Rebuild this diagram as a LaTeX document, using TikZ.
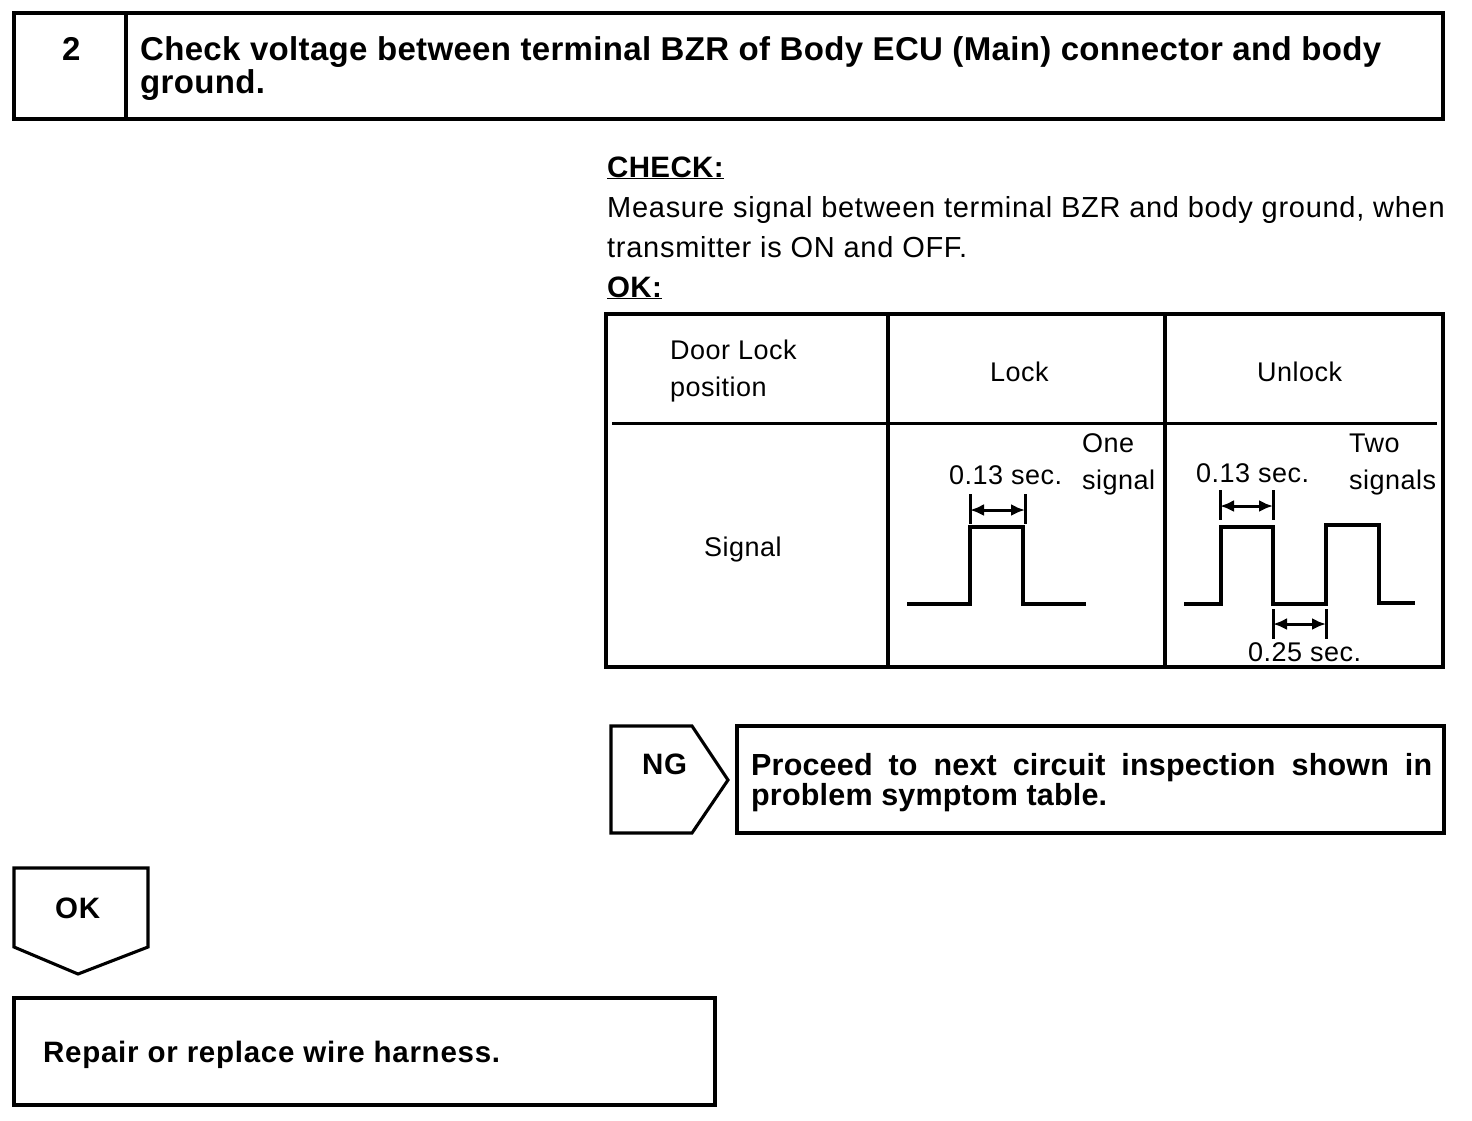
\documentclass[tikz,border=0pt]{standalone}
\usepackage{fontspec}
\setmainfont{Liberation Sans}
\usetikzlibrary{arrows.meta}
\tikzset{
  box/.style={draw,line width=3.1pt,line join=miter},
  rule/.style={line width=3pt},
  sig/.style={line width=3.1pt,line join=miter},
  tick/.style={line width=3pt},
  dim/.style={line width=3pt,{Latex[length=14pt,width=12pt]}-{Latex[length=14pt,width=12pt]}},
  bt/.style={font=\fontsize{33}{33}\selectfont\bfseries\addfontfeatures{LetterSpace=1.0},anchor=base west,inner sep=0pt},
  ct/.style={font=\fontsize{29.5}{29.5}\selectfont\bfseries\addfontfeatures{LetterSpace=2.5},anchor=base west,inner sep=0pt},
  ht/.style={font=\fontsize{29.5}{29.5}\selectfont\bfseries\addfontfeatures{LetterSpace=1.2},anchor=base west,inner sep=0pt},
  pt/.style={font=\fontsize{30.5}{30.5}\selectfont\bfseries\addfontfeatures{LetterSpace=0.6},anchor=base west,inner sep=0pt},
  nt/.style={font=\fontsize{29}{29}\selectfont\addfontfeatures{LetterSpace=2.5},anchor=base west,inner sep=0pt},
  tt/.style={font=\fontsize{27}{27}\selectfont\addfontfeatures{LetterSpace=1.8},anchor=base west,inner sep=0pt},
}
\begin{document}
\begin{tikzpicture}[x=1pt,y=-1pt]
\useasboundingbox (0,0) rectangle (1472,1120);
% header
\draw[box] (14,13) rectangle (1443,119);
\draw[box] (126,13) -- (126,119);
\node[bt] (stepno) at (62,60) {2};
\node[bt] (title1) at (140,60) {Check voltage between terminal BZR of Body ECU (Main) connector and body};
\node[bt] (title2) at (140,93) {ground.};
% check text
\node[ht] (check) at (607,177) {\underline{CHECK:}};
\node[nt] (m1) at (607,217) {Measure signal between terminal BZR and body ground, when};
\node[nt] (m2) at (607,257) {transmitter is ON and OFF.};
\node[ht] (okh) at (607,297) {\underline{OK:}};
% table
\draw[box] (606,314) rectangle (1443,667);
\draw[box] (888,314) -- (888,667);
\draw[box] (1165,314) -- (1165,667);
\draw[rule] (612,423) -- (1437,423);
\node[tt] (dl1) at (670,359) {Door Lock};
\node[tt] (dl2) at (670,396) {position};
\node[tt] (lock) at (990,381) {Lock};
\node[tt] (unlock) at (1257,381) {Unlock};
\node[tt] (signal) at (704,556) {Signal};
\node[tt] (one1) at (1082,452) {One};
\node[tt] (one2) at (1082,489) {signal};
\node[tt] (two1) at (1349,452) {Two};
\node[tt] (two2) at (1349,489) {signals};
\node[tt] (t1) at (949,484) {0.13 sec.};
\node[tt] (t2) at (1196,482) {0.13 sec.};
\node[tt] (t3) at (1248,661) {0.25 sec.};
% signals
\draw[sig] (907,604) -- (970,604) -- (970,527) -- (1023,527) -- (1023,604) -- (1086,604);
\draw[sig] (1184,604) -- (1221,604) -- (1221,527) -- (1273,527) -- (1273,604) -- (1326,604) -- (1326,525) -- (1379,525) -- (1379,603) -- (1415,603);
% dimensions
\draw[tick] (970,494) -- (970,524);
\draw[tick] (1025,494) -- (1025,524);
\draw[dim] (970,510) -- (1025,510);
\draw[tick] (1220,490) -- (1220,520);
\draw[tick] (1273,490) -- (1273,520);
\draw[dim] (1220,506) -- (1273,506);
\draw[tick] (1273,609) -- (1273,639);
\draw[tick] (1326,609) -- (1326,639);
\draw[dim] (1273,624) -- (1326,624);
% NG
\draw[box] (611,726) -- (692,726) -- (728,780) -- (692,833) -- (611,833) -- cycle;
\node[ct] (ng) at (642,774) {NG};
\draw[box] (737,726) rectangle (1444,833);
\node[pt,text width=681pt] (ngt1) at (751,775) {Proceed\hfill to\hfill next\hfill circuit\hfill inspection\hfill shown\hfill in};
\node[pt] (ngt2) at (751,805) {problem symptom table.};
% OK
\draw[box] (14,868) -- (148,868) -- (148,947) -- (78,974) -- (14,947) -- cycle;
\node[ct] (ok) at (55,918) {OK};
\draw[box] (14,998) rectangle (715,1105);
\node[ct] (rep) at (43,1062) {Repair or replace wire harness.};
\end{tikzpicture}
\end{document}
